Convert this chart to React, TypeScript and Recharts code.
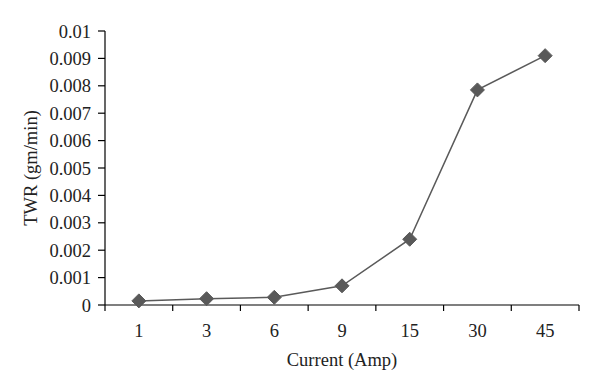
import React from 'react';
import { LineChart, Line, XAxis, YAxis } from 'recharts';

// Current (Amp) categories and TWR (gm/min) readings
const currents = ['1', '3', '6', '9', '15', '30', '45'];
const twr = [0.00015, 0.00023, 0.00028, 0.0007, 0.0024, 0.00785, 0.0091];
const yTicks = [0, 0.001, 0.002, 0.003, 0.004, 0.005, 0.006, 0.007, 0.008, 0.009, 0.01];
const boundaryTicks = [0, 1, 2, 3, 4, 5, 6, 7];

const data = currents.map((c, i) => ({ pos: i + 0.5, current: c, twr: twr[i] }));

const font = '"Liberation Serif", "DejaVu Serif", serif';

const Diamond = (props: any) => {
  const { cx, cy } = props;
  if (cx == null || cy == null) return null;
  const r = 7;
  return (
    <polygon
      points={`${cx},${cy - r} ${cx + r},${cy} ${cx},${cy + r} ${cx - r},${cy}`}
      fill="#595959"
      stroke="#595959"
    />
  );
};

const fmtY = (v: number) => (v === 0 ? '0' : String(Number(v.toFixed(3))));

export default function App() {
  return (
    <div style={{ position: 'absolute', left: 0, top: 0, background: '#fff' }}>
      <LineChart
        width={600}
        height={392}
        data={data}
        margin={{ top: 31, right: 21, bottom: 0, left: 0 }}
      >
        {/* category labels */}
        <XAxis
          xAxisId="b"
          type="number"
          dataKey="pos"
          domain={[0, 7]}
          ticks={data.map((d) => d.pos)}
          tickFormatter={(v: number) => currents[Math.floor(v)]}
          axisLine={false}
          tickLine={false}
          tickMargin={12}
          height={86}
          tick={{ fill: '#222', fontSize: 18.5, fontFamily: font }}
          label={{
            value: 'Current (Amp)',
            position: 'insideTop',
            offset: 47,
            fill: '#222',
            fontSize: 18.5,
            fontFamily: font,
          }}
        />
        {/* axis line with ticks between categories */}
        <XAxis
          xAxisId="a"
          type="number"
          dataKey="pos"
          domain={[0, 7]}
          ticks={boundaryTicks}
          tickFormatter={() => ''}
          tickSize={6}
          height={1}
          axisLine={{ stroke: '#000', strokeWidth: 1.2 }}
          tickLine={{ stroke: '#000', strokeWidth: 1.2 }}
        />
        <YAxis
          domain={[0, 0.01]}
          ticks={yTicks}
          tickFormatter={fmtY}
          width={105}
          tickSize={7}
          tickMargin={7}
          interval={0}
          axisLine={{ stroke: '#000', strokeWidth: 1.2 }}
          tickLine={{ stroke: '#000', strokeWidth: 1.2 }}
          tick={{ fill: '#222', fontSize: 18.5, fontFamily: font }}
          label={{
            value: 'TWR (gm/min)',
            angle: -90,
            position: 'insideLeft',
            offset: 30,
            style: { textAnchor: 'middle' },
            fill: '#222',
            fontSize: 18.5,
            fontFamily: font,
          }}
        />
        <Line
          xAxisId="b"
          type="linear"
          dataKey="twr"
          stroke="#5a5a5a"
          strokeWidth={1.5}
          dot={<Diamond />}
          activeDot={false}
          isAnimationActive={false}
        />
      </LineChart>
    </div>
  );
}
